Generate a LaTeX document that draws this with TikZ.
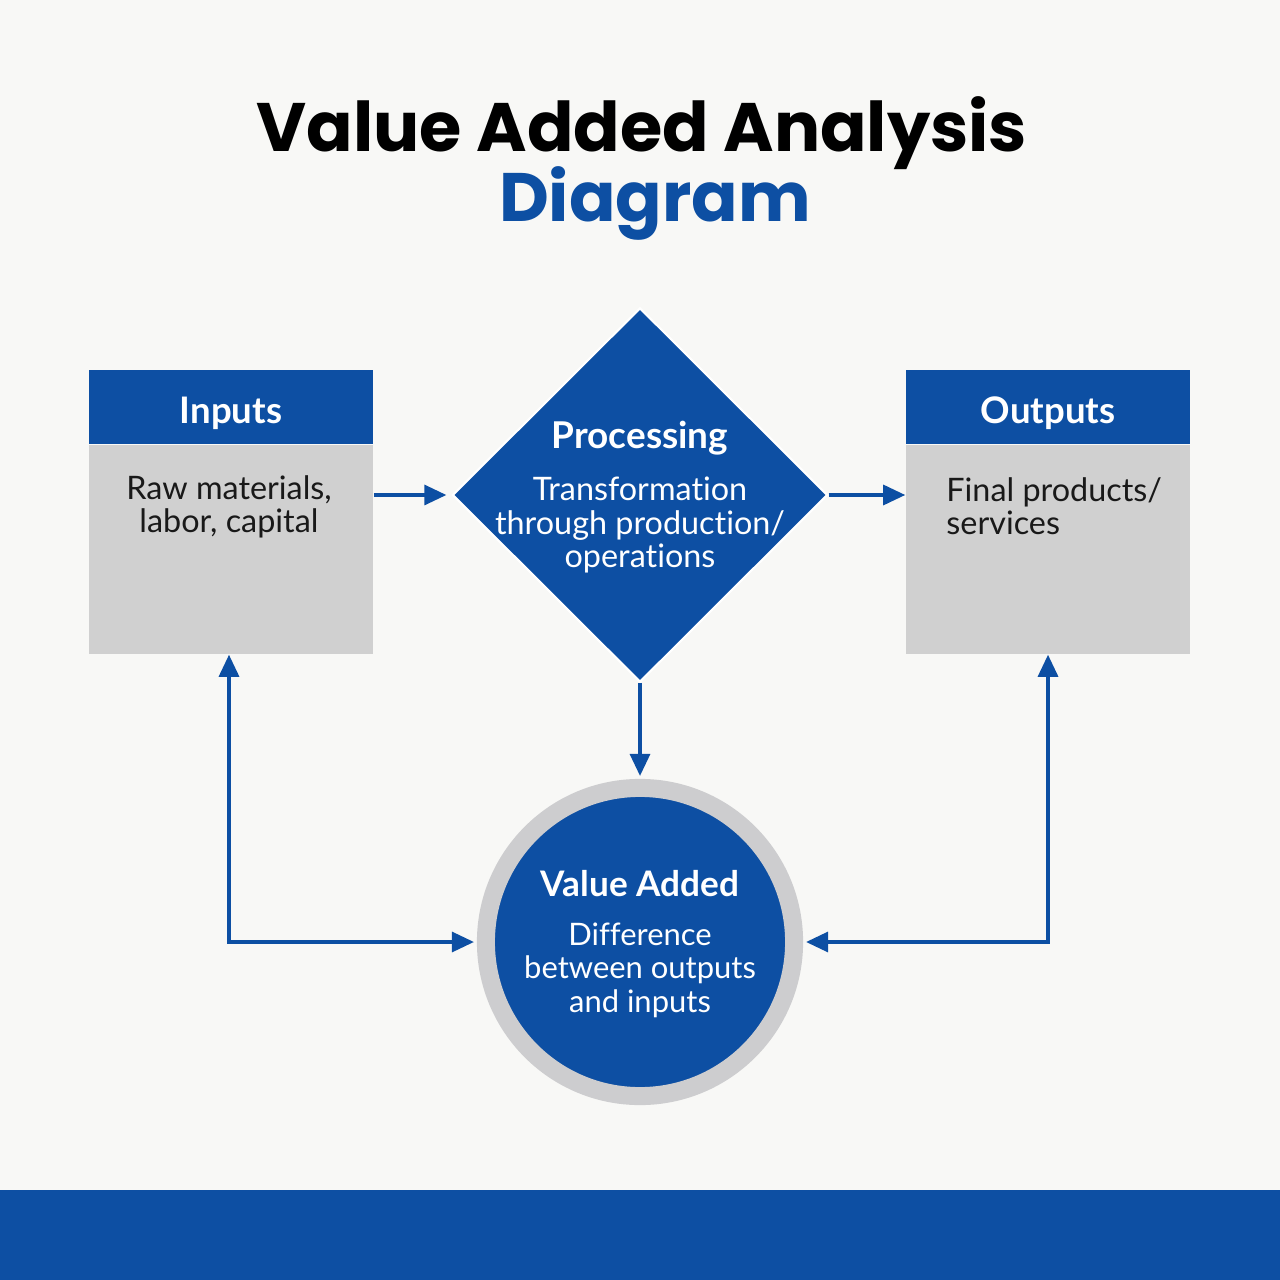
\documentclass[tikz,border=0pt]{standalone}
\usepackage{fontspec}
\setmainfont{Lato}[Ligatures={NoCommon}]
\newfontfamily\titlefont{Poppins}
\usepackage{tikz}
\usetikzlibrary{shapes.geometric, arrows.meta, positioning, calc}
\usepackage{xcolor}
\definecolor{vablue}{RGB}{13,79,163}
\definecolor{boxgray}{RGB}{208,208,208}
\definecolor{ringgray}{RGB}{205,205,207}
\definecolor{bgcolor}{RGB}{248,248,246}

\begin{document}
\begin{tikzpicture}[
    x=0.01cm, y=-0.01cm,
    headbox/.style={rectangle, fill=vablue, minimum width=2.84cm, minimum height=0.73cm, inner sep=0pt, text height=9.2pt, text depth=0pt, font=\fontsize{10.4}{12}\selectfont\bfseries, text=white},
    bodybox/.style={rectangle, fill=boxgray, minimum width=2.84cm, minimum height=2.09cm, inner sep=0pt},
    bodytext/.style={align=center, font=\fontsize{9.2}{9.5}\selectfont, text=black!90},
    headtext/.style={font=\fontsize{10.5}{12}\selectfont\bfseries, text=white},
    procbox/.style={diamond, fill=vablue, draw=white, line width=0.6pt, minimum width=3.75cm, minimum height=3.74cm, inner sep=0pt},
    valuebox/.style={circle, fill=vablue, draw=ringgray, line width=0.18cm, minimum size=3.08cm, inner sep=0pt},
    flow/.style={-{Triangle[length=0.22cm, width=0.2cm]}, draw=vablue, line width=0.9pt},
]
% background and footer
\fill[bgcolor] (0,0) rectangle (1280,1280);
\fill[vablue] (0,1190) rectangle (1280,1280);

% title
\node[font=\titlefont\fontsize{19.5}{22}\selectfont\bfseries, text=black] (title) at (642,133) {Value Added Analysis};
\node[font=\titlefont\fontsize{19.5}{22}\selectfont\bfseries, text=vablue] (subtitle) at (655,203) {Diagram};

% inputs
\node[bodybox] (inBody) at (231,549.5) {};
\node[headbox, anchor=south] (inHead) at (inBody.north) {Inputs};
\node[bodytext] (inText) at (229,507) {Raw materials,\\labor, capital};

% outputs
\node[bodybox] (outBody) at (1048,549.5) {};
\node[headbox, anchor=south] (outHead) at (outBody.north) {Outputs};
\node[bodytext, align=left, anchor=west] (outText) at (934,506) {Final products/\\services};

% processing
\node[procbox] (proc) at (640,495) {};
\node[headtext] (procHead) at (640,438) {Processing};
\node[bodytext, text=white] (procText) at (640,525) {Transformation\\through production/\\operations};

% value added
\node[valuebox] (vadd) at (640,942) {};
\node[headtext, font=\fontsize{10}{12}\selectfont\bfseries] (vaddHead) at (640,884) {Value Added};
\node[bodytext, text=white, font=\fontsize{8.8}{9.5}\selectfont] (vaddText) at (640,970) {Difference\\between outputs\\and inputs};

% connectors
\draw[flow] (inBody.east |- proc.west) -- ([xshift=-0.05cm]proc.west);
\draw[flow] (proc.east) -- (outBody.west |- proc.east);
\draw[flow] (proc.south) -- ([yshift=0.03cm]vadd.north);
\draw[flow, {Triangle[length=0.22cm, width=0.2cm]}-{Triangle[length=0.22cm, width=0.2cm]}] ([xshift=-0.02cm]inBody.south) |- ([xshift=-0.03cm]vadd.west);
\draw[flow, {Triangle[length=0.22cm, width=0.2cm]}-{Triangle[length=0.22cm, width=0.2cm]}] (outBody.south) |- ([xshift=0.03cm]vadd.east);
\end{tikzpicture}
\end{document}
